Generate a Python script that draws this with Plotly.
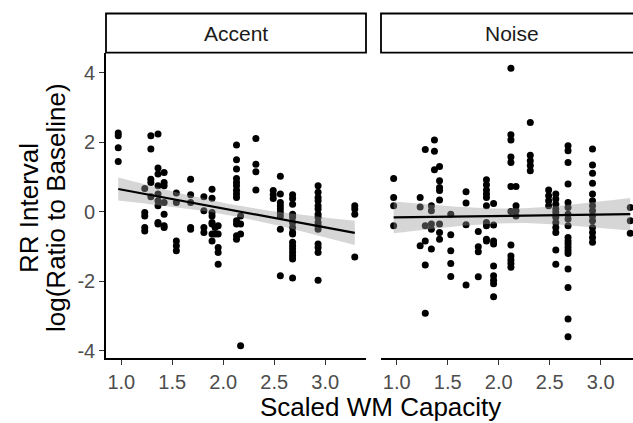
import numpy as np
import plotly.graph_objects as go

# ---- data ----
facets = ["Accent", "Noise"]

accent_x = ([0.97]*4 + [1.23]*5 + [1.29]*5 + [1.36]*9 + [1.42]*7 + [1.54]*5 + [1.68]*5
            + [1.81]*4 + [1.89]*8 + [1.92]*2 + [1.95]*5 + [2.13]*13 + [2.17]*4 + [2.32]*4
            + [2.49]*3 + [2.56]*9 + [2.68]*16 + [2.93]*15 + [3.29]*4)
accent_y = [2.27, 2.19, 1.84, 1.45,
            0.67, -0.02, -0.12, -0.45, -0.55,
            2.19, 1.81, 0.94, 0.84, 0.43,
            2.24, 1.26, 1.09, 0.75, 0.51, 0.32, 0.17, -0.31, -0.35,
            1.13, 0.84, 0.75, 0.27, -0.07, -0.40, -0.45,
            0.54, 0.27, -0.84, -0.98, -1.12,
            0.94, 0.49, 0.27, -0.45, -0.50,
            0.43, 0.03, -0.45, -0.60,
            0.65, 0.39, -0.02, -0.12, -0.31, -0.35, -0.64, -0.84,
            -0.45, -0.64,
            -0.40, -0.64, -1.03, -1.17, -1.51,
            1.92, 1.50, 1.23, 0.96, 0.84, 0.75, 0.62, 0.51, 0.41, -0.26, -0.35, -0.69, -0.79,
            -0.12, -0.35, -0.64, -3.86,
            2.11, 1.37, 1.15, 0.63,
            0.61, 0.49, 0.38,
            1.02, 0.51, 0.27, 0.17, 0.08, -0.02, -0.12, -0.50, -1.84,
            0.49, 0.38, 0.22, -0.07, -0.16, -0.31, -0.45, -0.60, -0.64, -0.88, -0.98, -1.07,
            -1.17, -1.27, -1.36, -1.91,
            0.75, 0.56, 0.41, 0.32, 0.17, 0.08, -0.07, -0.16, -0.31, -0.40, -0.50, -0.93,
            -1.03, -1.17, -1.97,
            0.17, 0.08, -0.07, -1.30]

noise_x = ([0.97]*4 + [1.23]*3 + [1.28]*5 + [1.34]*5 + [1.37]*3 + [1.42]*8 + [1.53]*5
           + [1.68]*4 + [1.80]*4 + [1.88]*10 + [1.95]*9 + [2.12]*12 + [2.17]*4 + [2.31]*5
           + [2.49]*4 + [2.56]*11 + [2.68]*19 + [2.92]*14 + [3.29]*3)
noise_y = [0.96, 0.41, 0.17, -0.40,
           0.41, 0.14, -0.98,
           1.79, -0.40, -0.84, -1.53, -2.92,
           0.17, 0.03, -0.35, -0.50, -1.07,
           2.07, 1.74, 1.21,
           1.30, 0.89, 0.70, 0.61, 0.34, -0.35, -0.60, -0.79,
           -0.07, -0.66, -1.12, -1.49, -1.86,
           0.58, 0.25, -0.37, -2.11,
           -0.57, -1.01, -1.15, -1.87,
           0.92, 0.78, 0.63, 0.51, 0.41, 0.17, -0.31, -0.40, -0.79, -0.84,
           0.24, -0.38, -0.84, -0.93, -1.56, -1.84, -1.97, -2.07, -2.45,
           4.13, 2.22, 2.07, 1.58, 1.42, 0.73, 0.01, -0.96, -1.27, -1.39, -1.49, -1.60,
           0.73, 0.17, 0.03, -0.12,
           2.57, 1.63, 1.47, 1.33, 1.18,
           0.63, 0.46, 0.32, 0.17,
           0.51, 0.37, 0.22, 0.08, -0.02, -0.16, -0.31, -0.45, -0.60, -1.10, -1.51,
           1.90, 1.76, 1.42, 0.80, 0.27, 0.12, -0.07, -0.21, -0.40, -0.74, -0.84, -0.93,
           -1.03, -1.12, -1.20, -1.65, -2.18, -3.09, -3.60,
           1.81, 1.35, 1.11, 0.82, 0.51, 0.32, 0.17, 0.03, -0.12, -0.26, -0.45, -0.60,
           -0.74, -0.88,
           0.12, -0.26, -0.62]

x_ticks = [1.0, 1.5, 2.0, 2.5, 3.0]
x_ticklabels = ["1.0", "1.5", "2.0", "2.5", "3.0"]
y_ticks = [-4, -2, 0, 2, 4]
y_ticklabels = ["-4", "-2", "0", "2", "4"]
y_title_lines = ["RR Interval", "log(Ratio to Baseline)"]


def lm_band(x, y, n=80, t=1.98):
    x = np.asarray(x, float)
    y = np.asarray(y, float)
    b1, b0 = np.polyfit(x, y, 1)
    res = y - (b0 + b1 * x)
    s = np.sqrt(np.sum(res ** 2) / (len(x) - 2))
    xs = np.linspace(x.min(), x.max(), n)
    se = s * np.sqrt(1 / len(x) + (xs - x.mean()) ** 2 / np.sum((x - x.mean()) ** 2))
    fit = b0 + b1 * xs
    return xs, fit, fit - t * se, fit + t * se


W, H = 633, 423
ml, mr, mt, mb = 106, 0, 13, 65
pw, ph = W - ml - mr, H - mt - mb
px = lambda p: (p - ml) / pw
py = lambda p: (H - mb - p) / ph

fig = go.Figure()
panel_data = [(accent_x, accent_y, "x", "y"), (noise_x, noise_y, "x2", "y2")]
for xs_, ys_, xa, ya in panel_data:
    fig.add_trace(go.Scatter(x=xs_, y=ys_, mode="markers", xaxis=xa, yaxis=ya,
                             marker=dict(color="black", size=7, line=dict(width=0)),
                             showlegend=False, hoverinfo="skip"))
    xs, fit, lo, hi = lm_band(xs_, ys_)
    fig.add_trace(go.Scatter(x=np.concatenate([xs, xs[::-1]]),
                             y=np.concatenate([hi, lo[::-1]]),
                             fill="toself", fillcolor="rgba(153,153,153,0.4)",
                             line=dict(width=0), mode="lines", xaxis=xa, yaxis=ya,
                             showlegend=False, hoverinfo="skip"))
    fig.add_trace(go.Scatter(x=xs, y=fit, mode="lines", xaxis=xa, yaxis=ya,
                             line=dict(color="black", width=2.2),
                             showlegend=False, hoverinfo="skip"))

font = "Liberation Sans, Arial, sans-serif"
top = py(52.7)
tickfont = dict(family=font, size=20, color="#4d4d4d")
common_x = dict(tickvals=x_ticks, ticktext=x_ticklabels, showline=True, linecolor="black",
                linewidth=1.6, ticks="outside", ticklen=5, tickwidth=1.2, tickcolor="#333333",
                showgrid=False, zeroline=False, tickfont=tickfont)

fig.update_layout(
    width=W, height=H, margin=dict(l=ml, r=mr, t=mt, b=mb),
    plot_bgcolor="white", paper_bgcolor="white",
    xaxis=dict(domain=[0, px(366)], range=[0.85, 3.40], anchor="y", **common_x),
    xaxis2=dict(domain=[px(381), 1], range=[0.846, 3.317], anchor="y2", **common_x),
    yaxis=dict(domain=[0, top], range=[-4.21, 4.58], tickvals=y_ticks, ticktext=y_ticklabels,
               showline=True, linecolor="black", linewidth=1.6, ticks="outside", ticklen=5,
               tickwidth=1.2, tickcolor="#333333", showgrid=False, zeroline=False,
               tickfont=tickfont, anchor="x"),
    yaxis2=dict(domain=[0, top], range=[-4.21, 4.58], showline=False, showticklabels=False,
                ticks="", showgrid=False, zeroline=False, anchor="x2", matches="y"),
)

# facet strips
strip_spans = [(106, 366), (381, 643)]
for (a, b), name in zip(strip_spans, facets):
    fig.add_shape(type="rect", xref="paper", yref="paper", x0=px(a), x1=px(b),
                  y0=top, y1=py(13.5), line=dict(color="black", width=1.8),
                  fillcolor="white", layer="above")
    fig.add_annotation(xref="paper", yref="paper", x=px((a + b) / 2), y=py(33),
                       text=name, showarrow=False, xanchor="center", yanchor="middle",
                       font=dict(family=font, size=21, color="#1a1a1a"))

# axis titles
fig.add_annotation(xref="paper", yref="paper", x=px(380), y=py(407), text="Scaled WM Capacity",
                   showarrow=False, xanchor="center", yanchor="middle",
                   font=dict(family=font, size=26, color="black"))
for cx, line in zip([29, 56], y_title_lines):
    fig.add_annotation(xref="paper", yref="paper", x=px(cx), y=py(208),
                       text=line, textangle=-90,
                       showarrow=False, xanchor="center", yanchor="middle",
                       font=dict(family=font, size=26, color="black"))

fig.write_html("out.html", config={"displayModeBar": False},
               post_script="document.body.style.margin='0';document.body.style.overflow='hidden';")
